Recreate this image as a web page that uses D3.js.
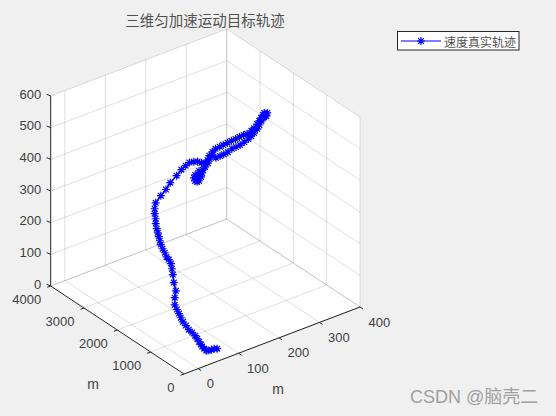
<!DOCTYPE html>
<html><head><meta charset="utf-8">
<script src="https://cdn.jsdelivr.net/npm/d3@7/dist/d3.min.js"></script>
<style>html,body{margin:0;padding:0;background:#f0f0f0;overflow:hidden}svg{display:block}</style>
</head><body><svg id="c" width="556" height="416"></svg>
<script>
const titleText = "三维匀加速运动目标轨迹";
const legendText = "速度真实轨迹";
const xTicks = [0,100,200,300,400];
const yTicks = [0,1000,2000,3000,4000];
const zTicks = [0,100,200,300,400,500,600];
const xDomain = [-35,400];
const yDomain = [0,4000];
const zDomain = [0,600];
const xData = [294,288,297,284,293,299,283,291,297,288,296,299,303,305,308,314,321,326,332,338,344,350,356,362,365,368,372,373,374,375,378,380,370,373,363,355,348,340,330,321,308,297,284,272,259,247,234,223,210,200,190,183,175,163,151,139,126,114,101,86,67,53,37,21,15,12,11,8,8,8,8,8,8,10,13,15,18,21,20,19,18,19,12,8,10,12,13,15,19,23,28,32,34,35,37,36,38,40,41,45,46,47];
const yData = [3600,3590,3580,3570,3555,3540,3525,3510,3490,3470,3450,3420,3390,3360,3330,3280,3240,3190,3140,3090,3040,2990,2940,2890,2840,2790,2740,2690,2640,2600,2570,2540,2510,2480,2450,2420,2390,2360,2330,2300,2270,2240,2210,2180,2150,2120,2090,2060,2030,2000,1970,1940,1910,1880,1850,1820,1790,1760,1730,1690,1650,1610,1570,1530,1490,1450,1410,1370,1340,1310,1280,1250,1220,1190,1160,1130,1100,1070,1030,990,950,900,850,800,760,720,680,640,600,560,520,480,440,400,360,320,280,240,200,150,80,0];
const zData = [197,203,200,216,213,214,229,226,231,243,244,254,266,280,293,285,290,297,304,315,321,328,338,348,360,371,386,401,417,429,436,446,453,444,454,451,447,443,437,435,434,438,440,441,444,446,447,449,451,448,443,435,432,440,452,459,465,463,459,450,440,428,419,407,394,383,370,359,345,334,324,313,303,291,279,267,259,247,234,219,197,174,159,142,129,118,107,96,85,73,64,55,47,40,33,30,25,21,23,27,35,40];

const ox = 184, oy = 374;
const xSX = d3.scaleLinear().domain(xDomain).range([0,176]);
const xSY = d3.scaleLinear().domain(xDomain).range([0,-67]);
const ySX = d3.scaleLinear().domain(yDomain).range([0,-133.3]);
const ySY = d3.scaleLinear().domain(yDomain).range([0,-88]);
const zSY = d3.scaleLinear().domain(zDomain).range([0,-190]);
const P = (x,y,z)=>[ox+xSX(x)+ySX(y), oy+xSY(x)+ySY(y)+zSY(z)];
const [x0,x1]=xDomain,[y0,y1]=yDomain,[z0,z1]=zDomain;

const svg = d3.select("#c");
const FONT = "'Liberation Sans',Arial,sans-serif", CJK = "'Noto Sans CJK SC',sans-serif";
svg.append("rect").attr("width",556).attr("height",416).attr("fill","#f0f0f0");

const outline = [P(x0,y1,z0),P(x0,y1,z1),P(x1,y1,z1),P(x1,y0,z1),P(x1,y0,z0),P(x0,y0,z0)];
svg.append("polygon").attr("points",outline.map(p=>p.join(",")).join(" ")).attr("fill","#fff");

const gridSegs = [];
xTicks.forEach(t=>{ gridSegs.push([P(t,y0,z0),P(t,y1,z0)]); gridSegs.push([P(t,y1,z0),P(t,y1,z1)]); });
yTicks.forEach(t=>{ gridSegs.push([P(x0,t,z0),P(x1,t,z0)]); gridSegs.push([P(x1,t,z0),P(x1,t,z1)]); });
zTicks.forEach(t=>{ gridSegs.push([P(x0,y1,t),P(x1,y1,t)]); gridSegs.push([P(x1,y1,t),P(x1,y0,t)]); });
svg.append("g").selectAll("line").data(gridSegs).join("line")
  .attr("x1",d=>d[0][0]).attr("y1",d=>d[0][1]).attr("x2",d=>d[1][0]).attr("y2",d=>d[1][1])
  .attr("stroke","#262626").attr("stroke-opacity",0.15).attr("stroke-width",1);

const axisSegs = [[P(x0,y1,z0),P(x0,y1,z1)],[P(x0,y0,z0),P(x0,y1,z0)],[P(x0,y0,z0),P(x1,y0,z0)]];
xTicks.forEach(t=>{const p=P(t,y0,z0);axisSegs.push([p,[p[0]+3,p[1]+2]]);});
yTicks.forEach(t=>{const p=P(x0,t,z0);axisSegs.push([p,[p[0]-3.5,p[1]+1.3]]);});
zTicks.forEach(t=>{const p=P(x0,y1,t);axisSegs.push([p,[p[0]-4,p[1]-1.7]]);});
svg.append("g").selectAll("line").data(axisSegs).join("line")
  .attr("x1",d=>d[0][0]).attr("y1",d=>d[0][1]).attr("x2",d=>d[1][0]).attr("y2",d=>d[1][1])
  .attr("stroke","#262626").attr("stroke-width",1);

const label = (g,x,y,s,a,fs)=>g.append("text").attr("x",x).attr("y",y).attr("text-anchor",a)
  .attr("dominant-baseline","central").attr("font-family",FONT).attr("font-size",fs||13).attr("fill","#404040").text(s);
const tg = svg.append("g");
xTicks.forEach(t=>{const p=P(t,y0,z0);label(tg,p[0]+8.5,p[1]+15,t,"start");});
yTicks.forEach(t=>{const p=P(x0,t,z0);label(tg,p[0]-9.5,p[1]+13.5,t,"end");});
zTicks.forEach(t=>{const p=P(x0,y1,t);label(tg,p[0]-9.5,p[1]-2,t,"end");});
label(tg,93,384,"m","middle",14);
label(tg,278,389,"m","middle",14);

const pts = xData.map((x,i)=>P(x,yData[i],zData[i]));
svg.append("path").attr("d",d3.line()(pts)).attr("fill","none").attr("stroke","#0000ff").attr("stroke-width",1.6);
// MATLAB's '*' marker: eight arms
const starType = {draw(ctx,size){
  const r = Math.sqrt(size);
  const d = r*Math.SQRT1_2;
  ctx.moveTo(-r,0);ctx.lineTo(r,0);
  ctx.moveTo(0,-r);ctx.lineTo(0,r);
  ctx.moveTo(-d,-d);ctx.lineTo(d,d);
  ctx.moveTo(-d,d);ctx.lineTo(d,-d);
}};
const star = d3.symbol().type(starType).size(16)();
svg.append("g").selectAll("path").data(pts).join("path")
  .attr("d",star).attr("transform",d=>`translate(${d[0]},${d[1]})`)
  .attr("fill","none").attr("stroke","#0000ff").attr("stroke-width",1.2);

svg.append("text").attr("x",205).attr("y",19).attr("text-anchor","middle").attr("dominant-baseline","central")
  .attr("font-family",CJK).attr("font-size",14.5).attr("fill","#505050").text(titleText);

const lg = svg.append("g");
lg.append("rect").attr("x",397.5).attr("y",31.5).attr("width",121.5).attr("height",18.5).attr("fill","#fff").attr("stroke","#262626");
lg.append("line").attr("x1",401).attr("x2",441).attr("y1",41).attr("y2",41).attr("stroke","#0000ff").attr("stroke-width",1.2);
lg.append("path").attr("d",star).attr("transform","translate(421,41)").attr("fill","none").attr("stroke","#0000ff").attr("stroke-width",1.2);
lg.append("text").attr("x",444).attr("y",41).attr("dominant-baseline","central").attr("font-family",CJK).attr("font-size",12).attr("fill","#505050").text(legendText);

svg.append("text").attr("x",410).attr("y",397).attr("dominant-baseline","central").attr("font-family","'Liberation Sans','Noto Sans CJK SC',sans-serif").attr("font-size",18).attr("fill","#a0a0a0").text("CSDN @脑壳二");
</script></body></html>
